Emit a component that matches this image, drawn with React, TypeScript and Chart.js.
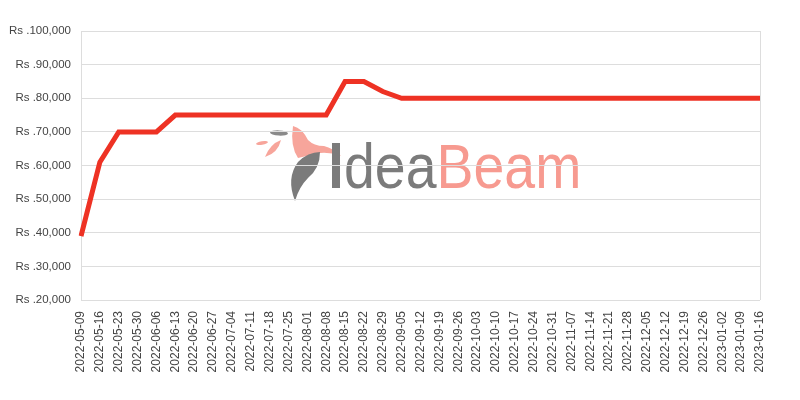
import React, { useEffect, useRef } from "react";
import { Chart, registerables } from "chart.js";

Chart.register(...registerables);

const dates: string[] = [
  "2022-05-09", "2022-05-16", "2022-05-23", "2022-05-30", "2022-06-06", "2022-06-13",
  "2022-06-20", "2022-06-27", "2022-07-04", "2022-07-11", "2022-07-18", "2022-07-25",
  "2022-08-01", "2022-08-08", "2022-08-15", "2022-08-22", "2022-08-29", "2022-09-05",
  "2022-09-12", "2022-09-19", "2022-09-26", "2022-10-03", "2022-10-10", "2022-10-17",
  "2022-10-24", "2022-10-31", "2022-11-07", "2022-11-14", "2022-11-21", "2022-11-28",
  "2022-12-05", "2022-12-12", "2022-12-19", "2022-12-26", "2023-01-02", "2023-01-09",
  "2023-01-16",
];

const prices: number[] = [
  39000, 61000, 70000, 70000, 70000, 75000,
  75000, 75000, 75000, 75000, 75000, 75000,
  75000, 75000, 85000, 85000, 82000, 80000,
  80000, 80000, 80000, 80000, 80000, 80000,
  80000, 80000, 80000, 80000, 80000, 80000,
  80000, 80000, 80000, 80000, 80000, 80000,
  80000,
];

const yMin = 20000;
const yMax = 100000;
const yStep = 10000;

const watermark = {
  id: "watermark",
  beforeDraw(chart: any) {
    const ctx = chart.ctx as CanvasRenderingContext2D;
    ctx.save();
    // small flying leaves
    ctx.fillStyle = "#f7a59b";
    ctx.beginPath();
    ctx.moveTo(265, 157);
    ctx.quadraticCurveTo(270, 144, 281, 140);
    ctx.quadraticCurveTo(278, 153, 265, 157);
    ctx.fill();
    ctx.beginPath();
    ctx.ellipse(262, 143, 6, 1.8, -0.15, 0, Math.PI * 2);
    ctx.fill();
    ctx.fillStyle = "#8a8a8a";
    ctx.beginPath();
    ctx.ellipse(279, 133, 9, 2.6, 0.05, 0, Math.PI * 2);
    ctx.fill();
    // bird (salmon)
    ctx.fillStyle = "#f7a59b";
    ctx.beginPath();
    ctx.moveTo(293, 126);
    ctx.quadraticCurveTo(302, 128, 308, 140);
    ctx.quadraticCurveTo(314, 146, 324, 146);
    ctx.quadraticCurveTo(333, 148, 341, 156);
    ctx.quadraticCurveTo(330, 152, 320, 153);
    ctx.quadraticCurveTo(306, 156, 298, 158);
    ctx.quadraticCurveTo(290, 146, 293, 126);
    ctx.fill();
    // feather (gray)
    ctx.fillStyle = "#7b7b7b";
    ctx.beginPath();
    ctx.moveTo(295, 201);
    ctx.quadraticCurveTo(286, 178, 298, 162);
    ctx.quadraticCurveTo(308, 152, 320, 152);
    ctx.quadraticCurveTo(320, 168, 308, 178);
    ctx.quadraticCurveTo(299, 187, 295, 201);
    ctx.fill();
    // "i" stem
    ctx.fillStyle = "#7b7b7b";
    ctx.fillRect(332, 143, 8, 45);
    // text
    ctx.font = "63px 'Liberation Sans', Arial, sans-serif";
    ctx.textBaseline = "alphabetic";
    ctx.textAlign = "left";
    const sx = 0.88;
    ctx.translate(344, 188);
    ctx.scale(sx, 1);
    ctx.fillStyle = "#7b7b7b";
    ctx.fillText("dea", 0, 0);
    const w = ctx.measureText("dea").width;
    ctx.fillStyle = "#f79a90";
    ctx.fillText("Beam", w, 0);
    ctx.restore();
  },
};

export default function App() {
  const ref = useRef<HTMLCanvasElement | null>(null);

  useEffect(() => {
    if (!ref.current) return;
    const last = dates.length - 1;
    const chart = new Chart(ref.current, {
      type: "line",
      data: {
        labels: dates,
        datasets: [
          {
            data: prices,
            borderColor: "#ee3224",
            backgroundColor: "#ee3224",
            borderWidth: 5,
            pointRadius: 0,
            tension: 0,
            fill: false,
          },
        ],
      },
      options: {
        animation: false,
        responsive: true,
        maintainAspectRatio: false,
        layout: { padding: { top: 31, right: 40, left: 0, bottom: 0 } },
        plugins: { legend: { display: false }, tooltip: { enabled: false } },
        scales: {
          x: {
            grid: {
              drawTicks: false,
              color: (c: any) => (c.index === 0 || c.index === last ? "#dddddd" : "rgba(0,0,0,0)"),
              lineWidth: 1,
            },
            border: { display: false },
            ticks: {
              minRotation: 90,
              maxRotation: 90,
              autoSkip: false,
              padding: 11,
              color: "#444444",
              font: { family: "'Liberation Sans', Arial, sans-serif", size: 12 },
            },
            afterFit(scale: any) {
              scale.height = 100;
            },
          },
          y: {
            min: yMin,
            max: yMax,
            grid: { drawTicks: false, color: "#dddddd", lineWidth: 1 },
            border: { display: true, color: "#dddddd" },
            ticks: {
              stepSize: yStep,
              padding: 10,
              color: "#444444",
              font: { family: "'Liberation Sans', Arial, sans-serif", size: 11.5 },
              callback: (v: any) => "Rs ." + Number(v).toLocaleString("en-US"),
            },
            afterFit(scale: any) {
              scale.width = 81;
            },
          },
        },
      },
      plugins: [watermark],
    });
    return () => chart.destroy();
  }, []);

  return (
    <div style={{ position: "fixed", left: 0, top: 0, width: 800, height: 400 }}>
      <canvas ref={ref} />
    </div>
  );
}
